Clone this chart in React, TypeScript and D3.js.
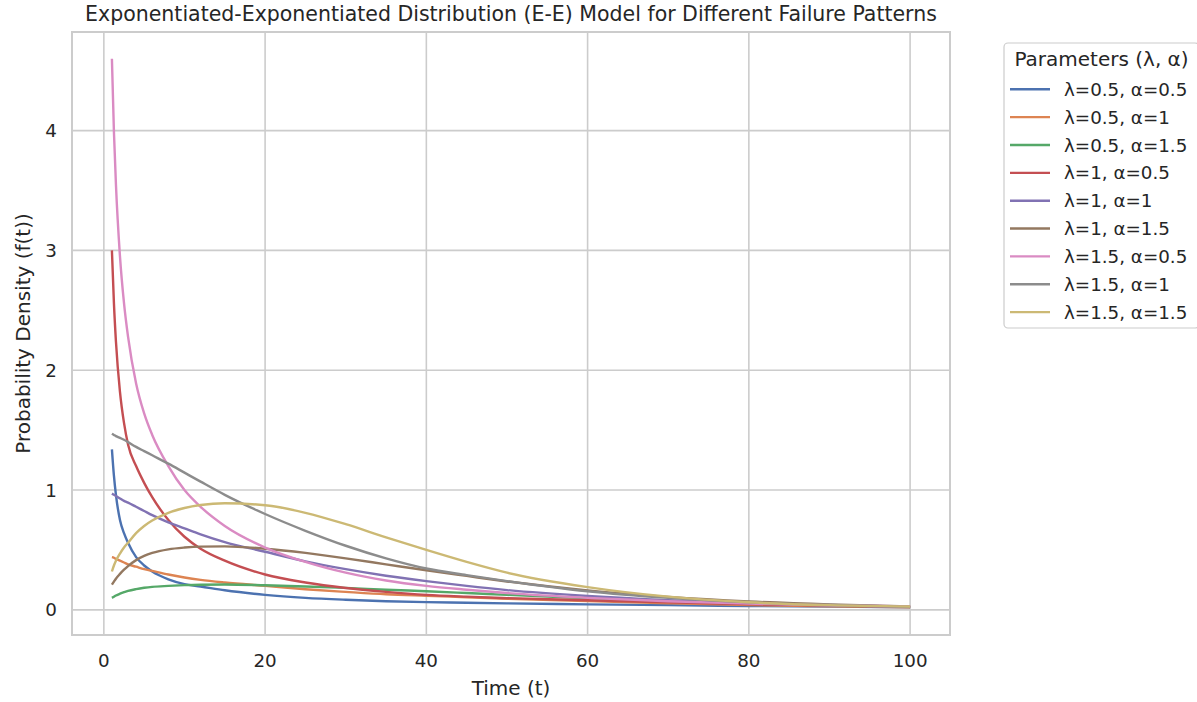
import React from "react";
import * as d3 from "d3";

const T = [1, 1.25, 1.5, 2, 2.5, 3, 4, 5, 6, 8, 10, 12, 15, 20, 25, 30, 35, 40, 45, 50, 60, 70, 80, 90, 100];

const l05a05 = [1.34, 1.12, 0.96, 0.75, 0.64, 0.56, 0.44, 0.37, 0.32, 0.255, 0.215, 0.195, 0.163, 0.125, 0.1, 0.084, 0.072, 0.064, 0.059, 0.054, 0.046, 0.039, 0.032, 0.027, 0.022];
const l05a1 = [0.44, 0.435, 0.425, 0.41, 0.395, 0.38, 0.36, 0.34, 0.325, 0.295, 0.27, 0.25, 0.228, 0.2, 0.172, 0.15, 0.13, 0.117, 0.105, 0.093, 0.073, 0.055, 0.04, 0.029, 0.021];
const l05a15 = [0.1, 0.11, 0.12, 0.135, 0.147, 0.158, 0.173, 0.184, 0.192, 0.2, 0.206, 0.21, 0.212, 0.205, 0.195, 0.183, 0.168, 0.155, 0.14, 0.125, 0.098, 0.072, 0.052, 0.036, 0.025];
const l1a05 = [3.0, 2.56, 2.24, 1.82, 1.56, 1.38, 1.2, 1.06, 0.94, 0.75, 0.61, 0.51, 0.41, 0.295, 0.228, 0.182, 0.15, 0.125, 0.11, 0.098, 0.08, 0.062, 0.047, 0.035, 0.026];
const l1a1 = [0.97, 0.96, 0.95, 0.93, 0.91, 0.895, 0.86, 0.825, 0.79, 0.73, 0.68, 0.63, 0.565, 0.485, 0.405, 0.34, 0.285, 0.24, 0.2, 0.165, 0.115, 0.08, 0.056, 0.038, 0.026];
const l1a15 = [0.21, 0.235, 0.26, 0.3, 0.335, 0.365, 0.415, 0.45, 0.475, 0.505, 0.52, 0.528, 0.53, 0.51, 0.475, 0.43, 0.38, 0.33, 0.283, 0.237, 0.162, 0.108, 0.07, 0.045, 0.029];
const l15a05 = [4.6, 3.99, 3.55, 2.95, 2.56, 2.28, 1.89, 1.64, 1.46, 1.2, 1.0, 0.86, 0.7, 0.52, 0.4, 0.31, 0.245, 0.2, 0.168, 0.14, 0.1, 0.072, 0.052, 0.038, 0.028];
const l15a1 = [1.47, 1.46, 1.45, 1.435, 1.42, 1.4, 1.36, 1.325, 1.29, 1.22, 1.145, 1.07, 0.96, 0.8, 0.66, 0.535, 0.43, 0.345, 0.29, 0.24, 0.155, 0.1, 0.063, 0.04, 0.025];
const l15a15 = [0.32, 0.37, 0.41, 0.47, 0.52, 0.56, 0.64, 0.7, 0.745, 0.81, 0.85, 0.875, 0.89, 0.873, 0.81, 0.715, 0.605, 0.5, 0.4, 0.31, 0.19, 0.11, 0.063, 0.039, 0.028];

const seriesNames = [
  "λ=0.5, α=0.5", "λ=0.5, α=1", "λ=0.5, α=1.5",
  "λ=1, α=0.5", "λ=1, α=1", "λ=1, α=1.5",
  "λ=1.5, α=0.5", "λ=1.5, α=1", "λ=1.5, α=1.5",
];
const seriesValues = [l05a05, l05a1, l05a15, l1a05, l1a1, l1a15, l15a05, l15a1, l15a15];
const colors = ["#4C72B0", "#DD8452", "#55A868", "#C44E52", "#8172B3", "#937860", "#DA8BC3", "#8C8C8C", "#CCB974"];
const xTicks = [0, 20, 40, 60, 80, 100];
const yTicks = [0, 1, 2, 3, 4];

const W = 1197, H = 702;
const plot = { left: 72, right: 950, top: 32, bottom: 635 };
const FONT = "DejaVu Sans, sans-serif";
const TXT = "#262626";

export default function App() {
  const x = d3.scaleLinear().domain([-3.95, 104.95]).range([plot.left, plot.right]);
  const y = d3.scaleLinear().domain([-0.21, 4.823]).range([plot.bottom, plot.top]);
  const line = d3.line<number>()
    .x((_, i) => x(T[i]))
    .y((d) => y(d))
    .curve(d3.curveMonotoneX);

  const legX = 1004, legY = 43, legW = 195, legH = 285;
  const entryY0 = 89.3, entryDy = 27.85;

  return (
    <svg width={W} height={H} style={{ position: "absolute", left: 0, top: 0, background: "#fff" }} fontFamily={FONT}>
      <rect x={0} y={0} width={W} height={H} fill="#fff" />
      <defs>
        <clipPath id="clip">
          <rect x={plot.left} y={plot.top} width={plot.right - plot.left} height={plot.bottom - plot.top} />
        </clipPath>
      </defs>
      {xTicks.map((t) => (
        <line key={"gx" + t} x1={x(t)} x2={x(t)} y1={plot.top} y2={plot.bottom} stroke="#cccccc" strokeWidth={1.6} />
      ))}
      {yTicks.map((t) => (
        <line key={"gy" + t} x1={plot.left} x2={plot.right} y1={y(t)} y2={y(t)} stroke="#cccccc" strokeWidth={1.6} />
      ))}
      <g clipPath="url(#clip)">
        {seriesValues.map((vals, i) => (
          <path key={i} d={line(vals) || ""} fill="none" stroke={colors[i]} strokeWidth={2.4} strokeLinejoin="round" strokeLinecap="butt" />
        ))}
      </g>
      <rect x={plot.left} y={plot.top} width={plot.right - plot.left} height={plot.bottom - plot.top} fill="none" stroke="#cccccc" strokeWidth={2} />
      {xTicks.map((t) => (
        <text key={"tx" + t} x={x(t)} y={667} textAnchor="middle" fontSize={18.3} fill={TXT}>{t}</text>
      ))}
      {yTicks.map((t) => (
        <text key={"ty" + t} x={57} y={y(t)} dy="0.36em" textAnchor="end" fontSize={18.3} fill={TXT}>{t}</text>
      ))}
      <text x={(plot.left + plot.right) / 2} y={695} textAnchor="middle" fontSize={20} fill={TXT}>Time (t)</text>
      <text transform={`translate(30,${(plot.top + plot.bottom) / 2}) rotate(-90)`} textAnchor="middle" fontSize={20} fill={TXT}>Probability Density (f(t))</text>
      <text x={(plot.left + plot.right) / 2} y={21} textAnchor="middle" fontSize={20.5} fill={TXT}>Exponentiated-Exponentiated Distribution (E-E) Model for Different Failure Patterns</text>
      <rect x={legX} y={legY} width={legW} height={legH} rx={4} fill="#fff" fillOpacity={0.8} stroke="#cccccc" strokeWidth={1.2} />
      <text x={legX + legW / 2} y={66} textAnchor="middle" fontSize={20} fill={TXT}>Parameters (λ, α)</text>
      {seriesNames.map((name, i) => {
        const yy = entryY0 + i * entryDy;
        return (
          <g key={"leg" + i}>
            <line x1={1010} x2={1050} y1={yy} y2={yy} stroke={colors[i]} strokeWidth={2.4} />
            <text x={1064} y={yy} dy="0.36em" fontSize={18.3} fill={TXT}>{name}</text>
          </g>
        );
      })}
    </svg>
  );
}
